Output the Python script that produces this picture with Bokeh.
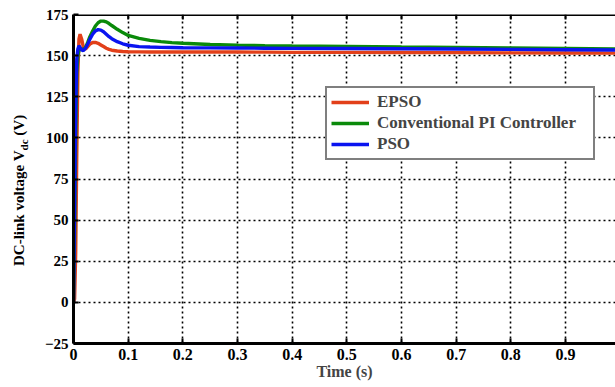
import math
from bokeh.plotting import figure
from bokeh.layouts import row
from bokeh.models import (LinearAxis, Range1d, Legend, LegendItem, Span, Div,
                          FixedTicker)
from bokeh.embed import file_html
from bokeh.resources import INLINE

# ---- data ----
t = [0, 0.002, 0.004, 0.006, 0.008, 0.010, 0.012, 0.015, 0.018, 0.022, 0.026,
     0.030, 0.035, 0.040, 0.045, 0.050, 0.055, 0.060, 0.065, 0.070, 0.080,
     0.090, 0.100, 0.120, 0.140, 0.160, 0.180, 0.200, 0.250, 0.300, 0.350,
     0.400, 0.500, 0.600, 0.700, 0.800, 0.900, 1.000]

epso = [0, 2, 30, 90, 140, 160, 163, 160, 155, 154, 155.5, 157, 158, 158,
        157.5, 156.5, 155.5, 154.5, 153.8, 153.3, 152.8, 152.5, 152.4, 152.3,
        152.2, 152.2, 152.2, 152.2, 152.2, 152.2, 152.1, 152.0, 152.0, 151.9,
        151.8, 151.7, 151.6, 151.5]

pi_ctrl = [0, 40, 100, 140, 150, 153, 154, 154, 153.5, 155, 158, 161.5, 165,
           168, 170, 171, 171, 170.5, 169.5, 168.3, 166, 164, 162.3, 160.5,
           159.3, 158.5, 157.9, 157.5, 156.8, 156.4, 156.1, 155.9, 155.6,
           155.2, 154.9, 154.6, 154.3, 154]

pso = [0, 60, 120, 148, 154, 156, 155, 153.5, 153, 154.5, 157, 160, 163, 165,
       165.8, 165.5, 164.5, 163, 161.5, 160.3, 158.5, 157.2, 156.3, 155.5,
       155.2, 155.0, 154.9, 154.8, 154.7, 154.6, 154.5, 154.4, 154.3, 154.2,
       154.0, 153.8, 153.6, 153.4]

series_names = ["EPSO", "Conventional PI Controller", "PSO"]
series_colors = ["#E2401A", "#0A8A0A", "#0A14F0"]

x_ticks = [0, 0.1, 0.2, 0.3, 0.4, 0.5, 0.6, 0.7, 0.8, 0.9, 1.0]
x_tick_labels = {0: "0", 0.1: "0.1", 0.2: "0.2", 0.3: "0.3", 0.4: "0.4",
                 0.5: "0.5", 0.6: "0.6", 0.7: "0.7", 0.8: "0.8", 0.9: "0.9",
                 1.0: "1"}
y_ticks = [-25, 0, 25, 50, 75, 100, 125, 150, 175]

FONT = "Liberation Serif"
LABEL_W = 30

p = figure(width=615 - LABEL_W, height=387, output_backend="svg",
           toolbar_location=None,
           x_range=Range1d(0, 0.9914), y_range=Range1d(-25, 175),
           min_border_left=73 - LABEL_W, min_border_right=0, min_border_top=14,
           min_border_bottom=44, x_axis_location=None, y_axis_location=None)
p.outline_line_color = None
p.background_fill_color = "white"
p.border_fill_color = "white"

# grid
p.xgrid.ticker = FixedTicker(ticks=x_ticks)
p.ygrid.ticker = FixedTicker(ticks=y_ticks)
for g in (p.xgrid, p.ygrid):
    g.grid_line_color = "black"
    g.grid_line_dash = "2 3"
    g.grid_line_width = 1.6

renderers = []
for ys, c in zip([epso, pi_ctrl, pso], series_colors):
    r = p.line(t, ys, line_color=c, line_width=3.4)
    renderers.append(r)

def style_axis(ax, size):
    ax.axis_line_width = 3
    ax.axis_line_color = "black"
    ax.major_tick_in = 5
    ax.major_tick_out = 0
    ax.major_tick_line_width = 2
    ax.minor_tick_in = 0
    ax.minor_tick_out = 0
    ax.major_label_text_font = FONT
    ax.major_label_text_font_style = "bold"
    ax.major_label_text_font_size = size
    ax.major_label_text_color = "black"
    ax.major_label_standoff = 5

xb = LinearAxis(ticker=FixedTicker(ticks=x_ticks))
xb.major_label_overrides = x_tick_labels
style_axis(xb, "16px")
xb.axis_label = "Time (s)"
xb.axis_label_text_font = FONT
xb.axis_label_text_font_style = "bold"
xb.axis_label_text_font_size = "16px"
xb.axis_label_standoff = 0
p.add_layout(xb, "below")

yl = LinearAxis(ticker=FixedTicker(ticks=y_ticks))
style_axis(yl, "15px")
p.add_layout(yl, "left")

# top border of the box and its inward ticks
p.add_layout(Span(location=175, dimension="width", line_color="black",
                  line_width=3))
p.ray(x=x_ticks, y=[175] * len(x_ticks), length=5, length_units="screen",
      angle=-math.pi / 2, line_color="black", line_width=2)

legend = Legend(items=[LegendItem(label=n, renderers=[r])
                       for n, r in zip(series_names, renderers)],
                location=(252, 183))
legend.label_text_font = FONT
legend.label_text_font_style = "bold"
legend.label_text_font_size = "17px"
legend.label_height = 20
legend.label_width = 212
legend.glyph_height = 20
legend.glyph_width = 38
legend.label_standoff = 8
legend.spacing = 1
legend.padding = 4
legend.margin = 0
legend.border_line_color = "black"
legend.border_line_width = 2
legend.background_fill_alpha = 1
p.add_layout(legend, "center")

# y-axis title with subscript (real text)
ylabel_html = (
    '<div style="position:relative;width:%dpx;height:387px;">'
    '<div style="position:absolute;left:11px;top:266px;'
    'transform:rotate(-90deg);transform-origin:left top;white-space:nowrap;'
    "font-family:'Liberation Serif',serif;font-weight:bold;font-size:15px;"
    'line-height:17px;color:black;">'
    'DC-link voltage V<sub style="font-size:11px;vertical-align:-4px;">dc</sub> (V)'
    '</div></div>' % LABEL_W)
ylab = Div(text=ylabel_html, width=LABEL_W, height=387, margin=0)

layout = row(ylab, p, spacing=0)
open("out.html", "w").write(file_html(layout, INLINE))
